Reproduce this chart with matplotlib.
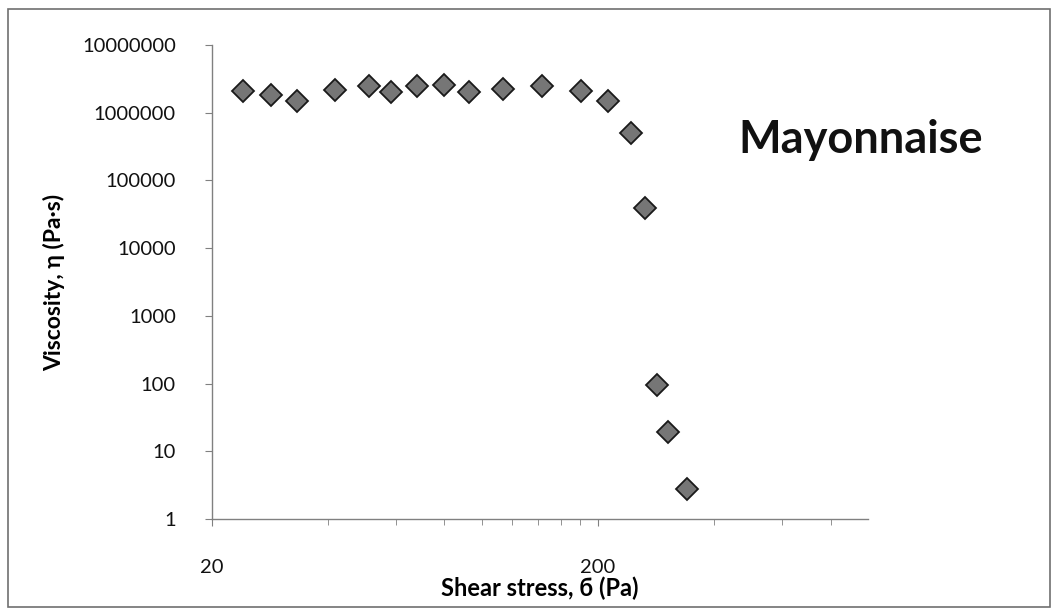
import numpy as np
import matplotlib
matplotlib.use("Agg")
import matplotlib.pyplot as plt
from matplotlib.ticker import FixedLocator, NullFormatter, FixedFormatter
from matplotlib.patches import Rectangle

plt.rcParams['font.family'] = ['Lato', 'DejaVu Sans']

# data
shear_stress = [24.0, 28.4, 33.3, 41.7, 51.1, 58.2, 67.8, 79.8, 92.6,
                113.4, 143.0, 180.7, 211.9, 243.7, 264.8, 283.9, 303.2, 339.6]
viscosity = [2.1e6, 1.8e6, 1.5e6, 2.2e6, 2.45e6, 2.05e6, 2.5e6, 2.55e6, 2.0e6,
             2.25e6, 2.5e6, 2.1e6, 1.5e6, 5.0e5, 3.9e4, 95, 19, 2.8]

y_ticks = [1, 10, 100, 1000, 10000, 100000, 1000000, 10000000]
x_major = [20, 200]
x_minor = [40, 60, 80, 100, 120, 140, 160, 180, 400, 600, 800]

fig = plt.figure(figsize=(10.56, 6.12), dpi=100)
ax = fig.add_axes([212 / 1056, 1 - 519 / 612, (868 - 212) / 1056, (519 - 45) / 612])

ax.plot(shear_stress, viscosity, linestyle='none', marker='D', markersize=11,
        markerfacecolor='#767676', markeredgecolor='#1a1a1a', markeredgewidth=1.3)

ax.set_xscale('log')
ax.set_yscale('log')
ax.set_xlim(20, 1000)
ax.set_ylim(1, 1e7)

ax.yaxis.set_major_locator(FixedLocator(y_ticks))
ax.yaxis.set_major_formatter(FixedFormatter([str(v) for v in y_ticks]))
ax.yaxis.set_minor_locator(FixedLocator([]))
ax.xaxis.set_major_locator(FixedLocator(x_major))
ax.xaxis.set_major_formatter(FixedFormatter([str(v) for v in x_major]))
ax.xaxis.set_minor_locator(FixedLocator(x_minor))
ax.xaxis.set_minor_formatter(NullFormatter())

for side in ['top', 'right']:
    ax.spines[side].set_visible(False)
for side in ['left', 'bottom']:
    ax.spines[side].set_color('#808080')
    ax.spines[side].set_linewidth(1.0)

ax.tick_params(axis='both', which='major', direction='out', length=5,
               color='#808080', labelsize=14.5, labelcolor='#111111')
ax.tick_params(axis='y', pad=21)
ax.tick_params(axis='x', pad=24)
ax.tick_params(axis='x', which='minor', direction='out', length=4, color='#808080')

ax.set_ylabel('Viscosity, η (Pa·s)', fontsize=16.5, fontweight='bold', labelpad=12)
ax.set_xlabel('Shear stress, б (Pa)', fontsize=17, fontweight='bold', labelpad=0)

ax.text(0.988, 0.80, 'Mayonnaise', transform=ax.transAxes, fontsize=32.5,
        fontweight='bold', ha='center', va='center', color='#111111')

fig.patches.append(Rectangle((8 / 1056, 1 - 607 / 612), 1042 / 1056, 598 / 612,
                             transform=fig.transFigure, fill=False,
                             edgecolor='#707070', linewidth=1.2))

fig.savefig('out.png', dpi=100)
